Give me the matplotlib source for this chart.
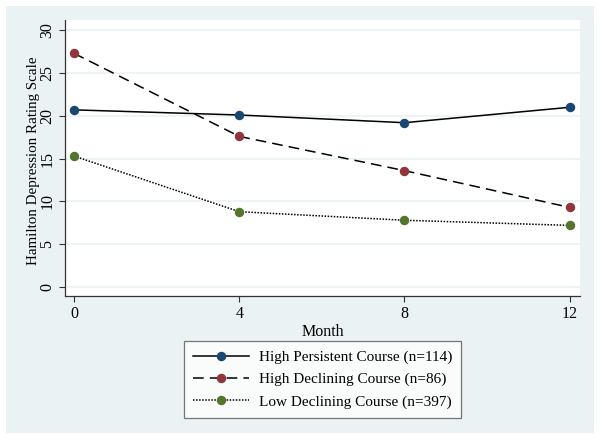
import matplotlib.pyplot as plt
from matplotlib.patches import Rectangle

months = [0, 4, 8, 12]
high_persistent = [20.7, 20.1, 19.2, 21.0]
high_declining = [27.3, 17.6, 13.6, 9.3]
low_declining = [15.3, 8.8, 7.8, 7.2]

labels = ['High Persistent Course (n=114)',
          'High Declining Course (n=86)',
          'Low Declining Course (n=397)']
colors = ['#1a476f', '#90353b', '#55752f']
styles = ['-', (0, (7, 4)), (0, (1, 1))]

plt.rcParams['font.family'] = ['Liberation Serif', 'DejaVu Serif']
plt.rcParams['font.size'] = 11.5

bg = '#eaf2f3'
fig = plt.figure(figsize=(6.02, 4.41), dpi=100)
fig.patch.set_facecolor('white')
fig.patches.append(Rectangle((6 / 602, 1 - 433 / 441), 588 / 602, 427 / 441,
                             transform=fig.transFigure, facecolor=bg,
                             edgecolor='none', zorder=-10))

ax = fig.add_axes([65 / 602, 1 - 296 / 441, 515 / 602, 276 / 441])
ax.set_zorder(1)
ax.set_facecolor('white')

series = [high_persistent, high_declining, low_declining]
for vals, lab, col, ls in zip(series, labels, colors, styles):
    ax.plot(months, vals, color='black', linestyle=ls, linewidth=1.1,
            marker='o', markersize=5.8, markerfacecolor=col,
            markeredgecolor=col, label=lab)

ax.set_xlim(-0.22, 12.25)
ax.set_ylim(-1.05, 31.2)
ax.set_xticks(months)
ax.set_yticks(range(0, 31, 5))
ax.tick_params(axis='y', labelrotation=90, direction='out', length=4,
               color='#333333', pad=3)
ax.tick_params(axis='x', direction='out', length=4, color='#333333', pad=3)
for lbl in ax.get_yticklabels():
    lbl.set_va('center')
ax.grid(axis='y', color=bg, linewidth=1.2)
ax.set_axisbelow(True)
for side in ['top', 'right']:
    ax.spines[side].set_visible(False)
for side in ['left', 'bottom']:
    ax.spines[side].set_color('#333333')
    ax.spines[side].set_linewidth(0.9)

ax.set_xlabel('Month', labelpad=2)
ax.set_ylabel('Hamilton Depression Rating Scale', fontsize=10.8)
ax.yaxis.set_label_coords(-0.048, 0.49)

leg = fig.legend(loc='center', bbox_to_anchor=(322.5 / 602, 1 - 379.5 / 441),
                 handlelength=3.7, numpoints=1, frameon=True, fancybox=False,
                 borderpad=0.6, labelspacing=0.55, handletextpad=0.6,
                 fontsize=11)
leg.get_frame().set_edgecolor('#555555')
leg.get_frame().set_linewidth(0.9)

fig.savefig('out.png', dpi=100, facecolor=fig.get_facecolor())
